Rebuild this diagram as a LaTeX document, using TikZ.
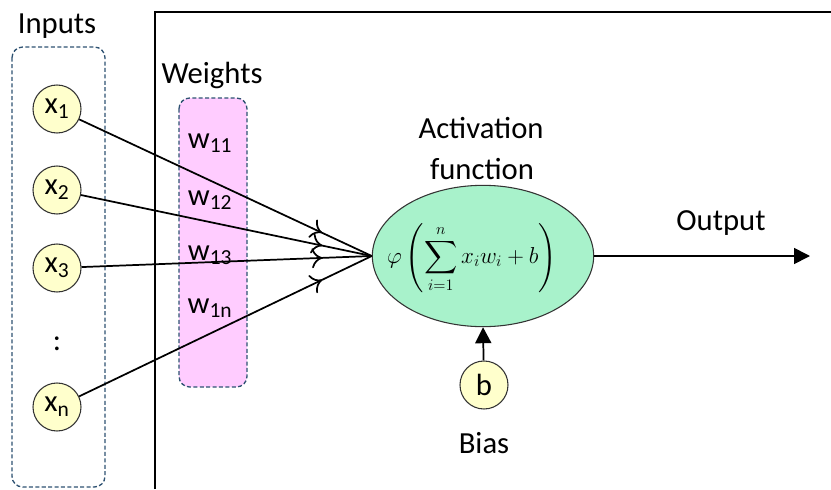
\documentclass[tikz,border=0pt]{standalone}
\usepackage{fontspec}
\setmainfont{Carlito}
\usepackage{amsmath}
\usetikzlibrary{arrows.meta, positioning, shapes.geometric, decorations.markings}

\definecolor{inyellow}{HTML}{FFFFCC}
\definecolor{wpink}{HTML}{FFCCFF}
\definecolor{actgreen}{HTML}{A8F2CB}
\definecolor{dashblue}{HTML}{2E5272}

\begin{document}
\begin{tikzpicture}[
    x=0.75pt, y=-0.75pt,
    font=\fontsize{23}{26}\selectfont,
    label text/.style={anchor=base, inner sep=1pt},
    neuron/.style={circle, minimum size=36pt, inner sep=0pt, draw=black!80, line width=0.8pt, fill=inyellow},
    group/.style={rounded corners=8pt, draw=dashblue, line width=1pt, dash pattern=on 3pt off 1.8pt},
    activ/.style={ellipse, minimum width=166pt, minimum height=106pt, inner sep=0pt, draw=black!80, line width=0.8pt, fill=actgreen},
    weighted/.style={line width=1.3pt, postaction={decorate}, decoration={markings, mark=at position 0.83 with {\arrow{To[length=8pt,width=15pt,line width=1.3pt]}}}},
    arrow/.style={-{Triangle[length=12pt, width=12pt]}, line width=1.3pt}
]
\useasboundingbox (0,0) rectangle (831,489);

% frame and groups
\draw[line width=1.6pt] (155,489) |- (831,12);
\draw[group] (12,47) rectangle (105,487);
\draw[group, fill=wpink] (179,98) rectangle (247,387);

\node[label text] (inlabel) at (57,33) {Inputs};
\node[label text] (wlabel) at (212,83) {Weights};

% inputs
\node[neuron] (x1) at (57,109) {x\textsubscript{1}};
\node[neuron] (x2) at (57,190) {x\textsubscript{2}};
\node[neuron] (x3) at (57,268) {x\textsubscript{3}};
\node[label text] (dots) at (57,350) {:};
\node[neuron] (xn) at (57,407) {x\textsubscript{n}};

% weights
\node[label text] (w11) at (210,148) {w\textsubscript{11}};
\node[label text] (w12) at (210,205) {w\textsubscript{12}};
\node[label text] (w13) at (210,260) {w\textsubscript{13}};
\node[label text] (w1n) at (210,313) {w\textsubscript{1n}};

% activation
\node[activ] (act) at (483,256) {};
\node[inner sep=0pt] (formula) at (472,258) {\fontsize{17.5}{21}\selectfont$\displaystyle\varphi\left(\sum_{i=1}^{n} x_i w_i + b\right)$};
\node[label text] (actlabel) at (481,138) {Activation};
\node[label text] (actlabel2) at (482,179) {function};

\node[neuron] (bias) at (484,385) {b};
\node[label text] (biaslabel) at (484,453) {Bias};

\coordinate (out) at (810,256);
\node[label text] (outlabel) at (721,230) {Output};

\foreach \i in {x1,x2,x3,xn}
    \draw[weighted] (\i) -- (act.west);
\draw[arrow] (act.east) -- (out);
\draw[arrow] (bias) -- (act.south);

\end{tikzpicture}
\end{document}
